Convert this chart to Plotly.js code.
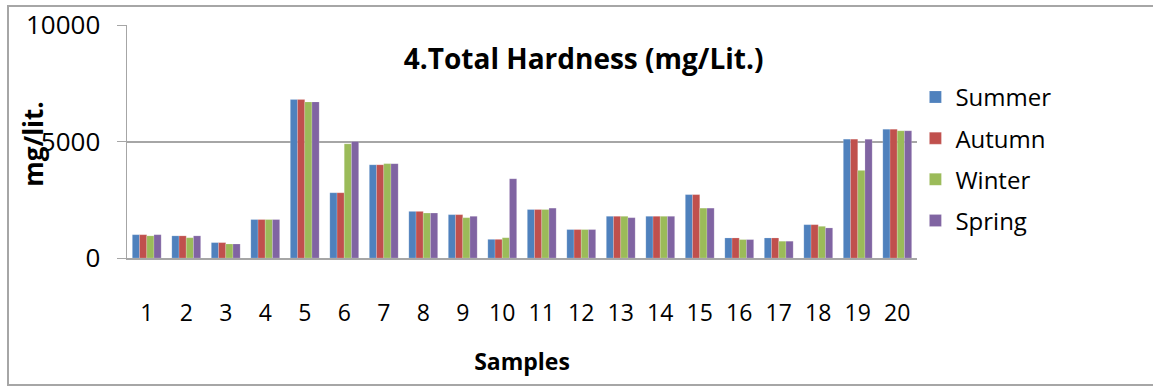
<!DOCTYPE html>
<html>
<head>
<meta charset="utf-8">
<script src="https://cdn.plot.ly/plotly-3.0.1.min.js"></script>
<style>
  html, body { margin: 0; padding: 0; background: #fff; }
  #wrap { position: relative; width: 1153px; height: 387px; overflow: hidden; }
  #chart { position: absolute; left: 0; top: 0; width: 1153px; height: 387px; }
  #frame { position: absolute; left: 7px; top: 5px; width: 1160px; height: 377px;
           border: 2px solid #a6a6a6; pointer-events: none; }
</style>
</head>
<body>
<div id="wrap">
  <div id="chart"></div>
  <div id="frame"></div>
</div>
<script>
const samples = ["1","2","3","4","5","6","7","8","9","10","11","12","13","14","15","16","17","18","19","20"];
const summer = [1000, 950, 660, 1650, 6800, 2800, 4000, 2000, 1860, 800, 2080, 1220, 1790, 1790, 2720, 860, 860, 1430, 5100, 5530];
const autumn = [1000, 950, 660, 1650, 6800, 2800, 4000, 2000, 1860, 800, 2080, 1220, 1790, 1790, 2720, 860, 860, 1430, 5100, 5530];
const winter = [950, 870, 600, 1650, 6700, 4900, 4050, 1930, 1730, 870, 2080, 1220, 1790, 1790, 2140, 790, 720, 1360, 3760, 5460];
const spring = [1000, 950, 600, 1650, 6700, 5000, 4050, 1930, 1790, 3400, 2140, 1220, 1730, 1790, 2140, 790, 720, 1290, 5100, 5460];
const seriesNames = ["Summer", "Autumn", "Winter", "Spring"];
const seriesColors = ["#4F81BD", "#C0504D", "#9BBB59", "#8064A2"];
const seriesValues = [summer, autumn, winter, spring];
const yTicks = [0, 5000, 10000];

const font = "Open Sans, Liberation Sans, sans-serif";

const traces = seriesValues.map((vals, i) => ({
  type: "bar",
  name: seriesNames[i],
  legendgroup: seriesNames[i],
  x: samples,
  y: vals,
  marker: { color: seriesColors[i], line: { color: "rgba(255,255,255,0.35)", width: 0.5 } }
}));

const layout = {
  width: 1153,
  height: 387,
  margin: { l: 127, r: 236, t: 25, b: 129 },
  paper_bgcolor: "#ffffff",
  plot_bgcolor: "#ffffff",
  barmode: "group",
  bargap: 0.27,
  bargroupgap: 0,
  font: { family: font, color: "#000" },
  title: {
    text: "<b>4.Total Hardness (mg/Lit.)</b>",
    font: { family: font, size: 28, color: "#000" },
    xref: "paper", x: 0.578, xanchor: "center",
    yref: "container", y: 0.848, yanchor: "middle"
  },
  xaxis: {
    type: "category",
    showgrid: false,
    showline: true,
    linecolor: "#a6a6a6",
    linewidth: 2,
    ticks: "",
    tickfont: { family: font, size: 23, color: "#000" },
    ticklabelstandoff: 33,
    title: { text: "<b>Samples</b>", font: { family: font, size: 23, color: "#000" }, standoff: 27 }
  },
  yaxis: {
    range: [0, 10000],
    tickvals: yTicks,
    ticktext: yTicks.map(String),
    showgrid: true,
    gridcolor: "#a6a6a6",
    gridwidth: 2,
    zeroline: false,
    showline: true,
    linecolor: "#a6a6a6",
    linewidth: 1.5,
    ticks: "outside",
    ticklen: 9,
    tickcolor: "#a6a6a6",
    tickfont: { family: font, size: 26, color: "#000" },
    ticklabelstandoff: 11
  },
  annotations: [{
    text: "<b>mg/lit.</b>",
    textangle: -90,
    font: { family: font, size: 26, color: "#000" },
    xref: "paper", x: -0.119, xanchor: "center",
    yref: "paper", y: 0.49, yanchor: "middle",
    showarrow: false
  }],
  legend: {
    x: 0.998, xanchor: "left",
    y: 0.786, yanchor: "top",
    font: { family: font, size: 24, color: "#000" },
    bgcolor: "rgba(0,0,0,0)",
    traceorder: "grouped",
    tracegroupgap: 7,
    itemwidth: 30
  },
  showlegend: true
};

Plotly.newPlot("chart", traces, layout, { displayModeBar: false, staticPlot: true });
</script>
</body>
</html>
